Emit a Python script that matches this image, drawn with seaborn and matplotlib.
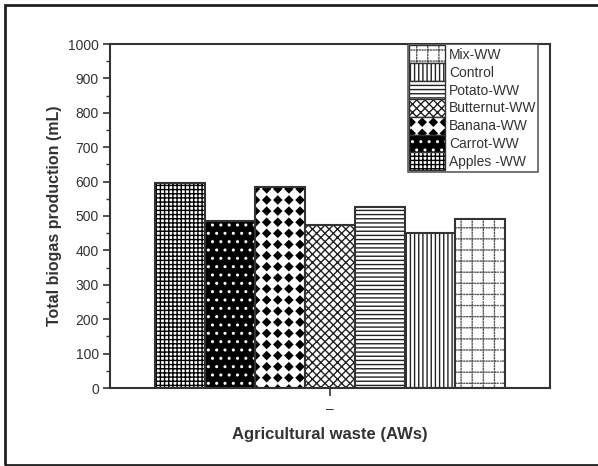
import numpy as np
import pandas as pd
import matplotlib
matplotlib.use("Agg")
import matplotlib.pyplot as plt
import matplotlib.hatch as mhatch
import matplotlib.colors as mcolors
from matplotlib.path import Path
from matplotlib.patches import Rectangle, Patch
import seaborn as sns

# Biogas yield per agricultural waste feedstock
wastes = ["Apples -WW", "Carrot-WW", "Banana-WW", "Butternut-WW", "Potato-WW", "Control", "Mix-WW"]
biogas_ml = [596, 486, 584, 475, 525, 451, 490]
y_ticks = [0, 100, 200, 300, 400, 500, 600, 700, 800, 900, 1000]

# Fill styles per feedstock
hatches = ["++++", "..", "*", "xxxx", "----", "||||", "O"]
faces = ["white", "black", "white", "white", "white", "white", "white"]
hatch_cols = ["black", "white", "black", "#222222", "#222222", "#222222", "#555555"]


class DiamondHatch(mhatch.HatchPatternBase):
    """Filled diamonds on a square grid, selected with '*'."""

    def __init__(self, hatch, density):
        self.num_rows = int(hatch.count("*") * density * 1.5)
        self.num_vertices = (self.num_rows + 1) ** 2 * 5 if self.num_rows else 0

    def set_vertices_and_codes(self, vertices, codes):
        n = self.num_rows
        step = 1.0 / n
        r = step * 0.34
        shape = np.array([[0, -r], [r, 0], [0, r], [-r, 0], [0, -r]])
        scode = [Path.MOVETO, Path.LINETO, Path.LINETO, Path.LINETO, Path.CLOSEPOLY]
        vs, cs = [], []
        for i in range(n + 1):
            for j in range(n + 1):
                vs.append(shape + [i * step, j * step])
                cs.extend(scode)
        vertices[:] = np.concatenate(vs)
        codes[:] = cs


class DottedGrid(mhatch.HatchPatternBase):
    """Dotted square grid, selected with 'O'."""

    dots_per_cell = 4

    def __init__(self, hatch, density):
        self.num_lines = int(hatch.count("O") * density * 1.5)
        n = self.num_lines
        self.num_vertices = n * n * self.dots_per_cell * 4 if n else 0

    def set_vertices_and_codes(self, vertices, codes):
        n = self.num_lines
        step = 1.0 / n
        seg = step / self.dots_per_cell
        vs, cs = [], []
        for i in range(n):
            pos = (i + 0.5) * step
            for k in range(n * self.dots_per_cell):
                a = k * seg
                vs += [[a, pos], [a + seg * 0.3, pos]]
                vs += [[pos, a], [pos, a + seg * 0.3]]
                cs += [Path.MOVETO, Path.LINETO, Path.MOVETO, Path.LINETO]
        vertices[:] = np.array(vs)
        codes[:] = cs


# swap the star and large-circle patterns for the custom fills
mhatch._hatch_types = [
    h for h in mhatch._hatch_types
    if h not in (mhatch.Stars, mhatch.LargeCircles)
] + [DiamondHatch, DottedGrid]

sns.set_style("white")
plt.rcParams["font.family"] = ["Liberation Sans", "DejaVu Sans"]
plt.rcParams["hatch.linewidth"] = 1.0

df = pd.DataFrame({"group": ["–"] * len(wastes), "waste": wastes, "biogas": biogas_ml})

fig = plt.figure(figsize=(5.98, 4.66), dpi=100)
ax = fig.add_axes([110 / 598, 1 - 388 / 466, 440 / 598, (388 - 44) / 466])

sns.barplot(data=df, x="group", y="biogas", hue="waste", hue_order=wastes,
            palette=["white"] * len(wastes), width=0.795, gap=0,
            edgecolor="#333333", linewidth=1.5, legend=False, ax=ax, zorder=2)

edge = "#333333"
for p, h, fc, hc in zip(ax.patches, hatches, faces, hatch_cols):
    p.set_facecolor(fc)
    p.set_edgecolor(edge)
    p.set_linewidth(1.5)
    p.set_hatch(h)
    p._hatch_color = mcolors.to_rgba(hc)

ax.set_ylim(0, 1000)
ax.set_xlim(-0.5, 0.5)
ax.set_yticks(y_ticks)
ax.set_yticks(np.arange(50, 1000, 100), minor=True)
ax.tick_params(axis="y", which="major", direction="out", length=5, width=1.2,
               labelsize=10, labelcolor="#333333", color="#333333", left=True, pad=3)
ax.tick_params(axis="y", which="minor", direction="out", length=3, width=1.0,
               color="#333333", left=True)
ax.tick_params(axis="x", which="major", direction="out", length=6, width=1.2,
               labelsize=10, labelcolor="#333333", color="#333333", bottom=True, pad=4)
for s in ax.spines.values():
    s.set_visible(True)
    s.set_linewidth(1.5)
    s.set_color("#333333")

ax.set_ylabel("Total biogas production (mL)", fontsize=11.5, fontweight="bold",
              color="#333333", labelpad=4)
ax.set_xlabel("Agricultural waste (AWs)", fontsize=12, fontweight="bold",
              color="#333333", labelpad=8)

handles = []
for h, fc, hc in zip(hatches, faces, hatch_cols):
    hp = Patch(facecolor=fc, edgecolor=edge, hatch=h, linewidth=1.0)
    hp._hatch_color = mcolors.to_rgba(hc)
    handles.append(hp)
leg = ax.legend(handles[::-1], wastes[::-1], loc="upper right",
                bbox_to_anchor=(0.973, 1.0), frameon=True, fancybox=False,
                fontsize=10, labelspacing=0.0, handleheight=1.6, handlelength=2.6,
                handletextpad=0.3, borderpad=0.1, borderaxespad=0.0)
leg.get_frame().set_edgecolor("#333333")
leg.get_frame().set_linewidth(1.2)
for t in leg.get_texts():
    t.set_color("#333333")

# outer frame around the figure
fig.add_artist(Rectangle((5 / 598, 1 - 465 / 466), 1.2, (465 - 5) / 466,
                         transform=fig.transFigure, fill=False,
                         edgecolor="#222222", linewidth=2))

fig.savefig("out.png", dpi=100)
